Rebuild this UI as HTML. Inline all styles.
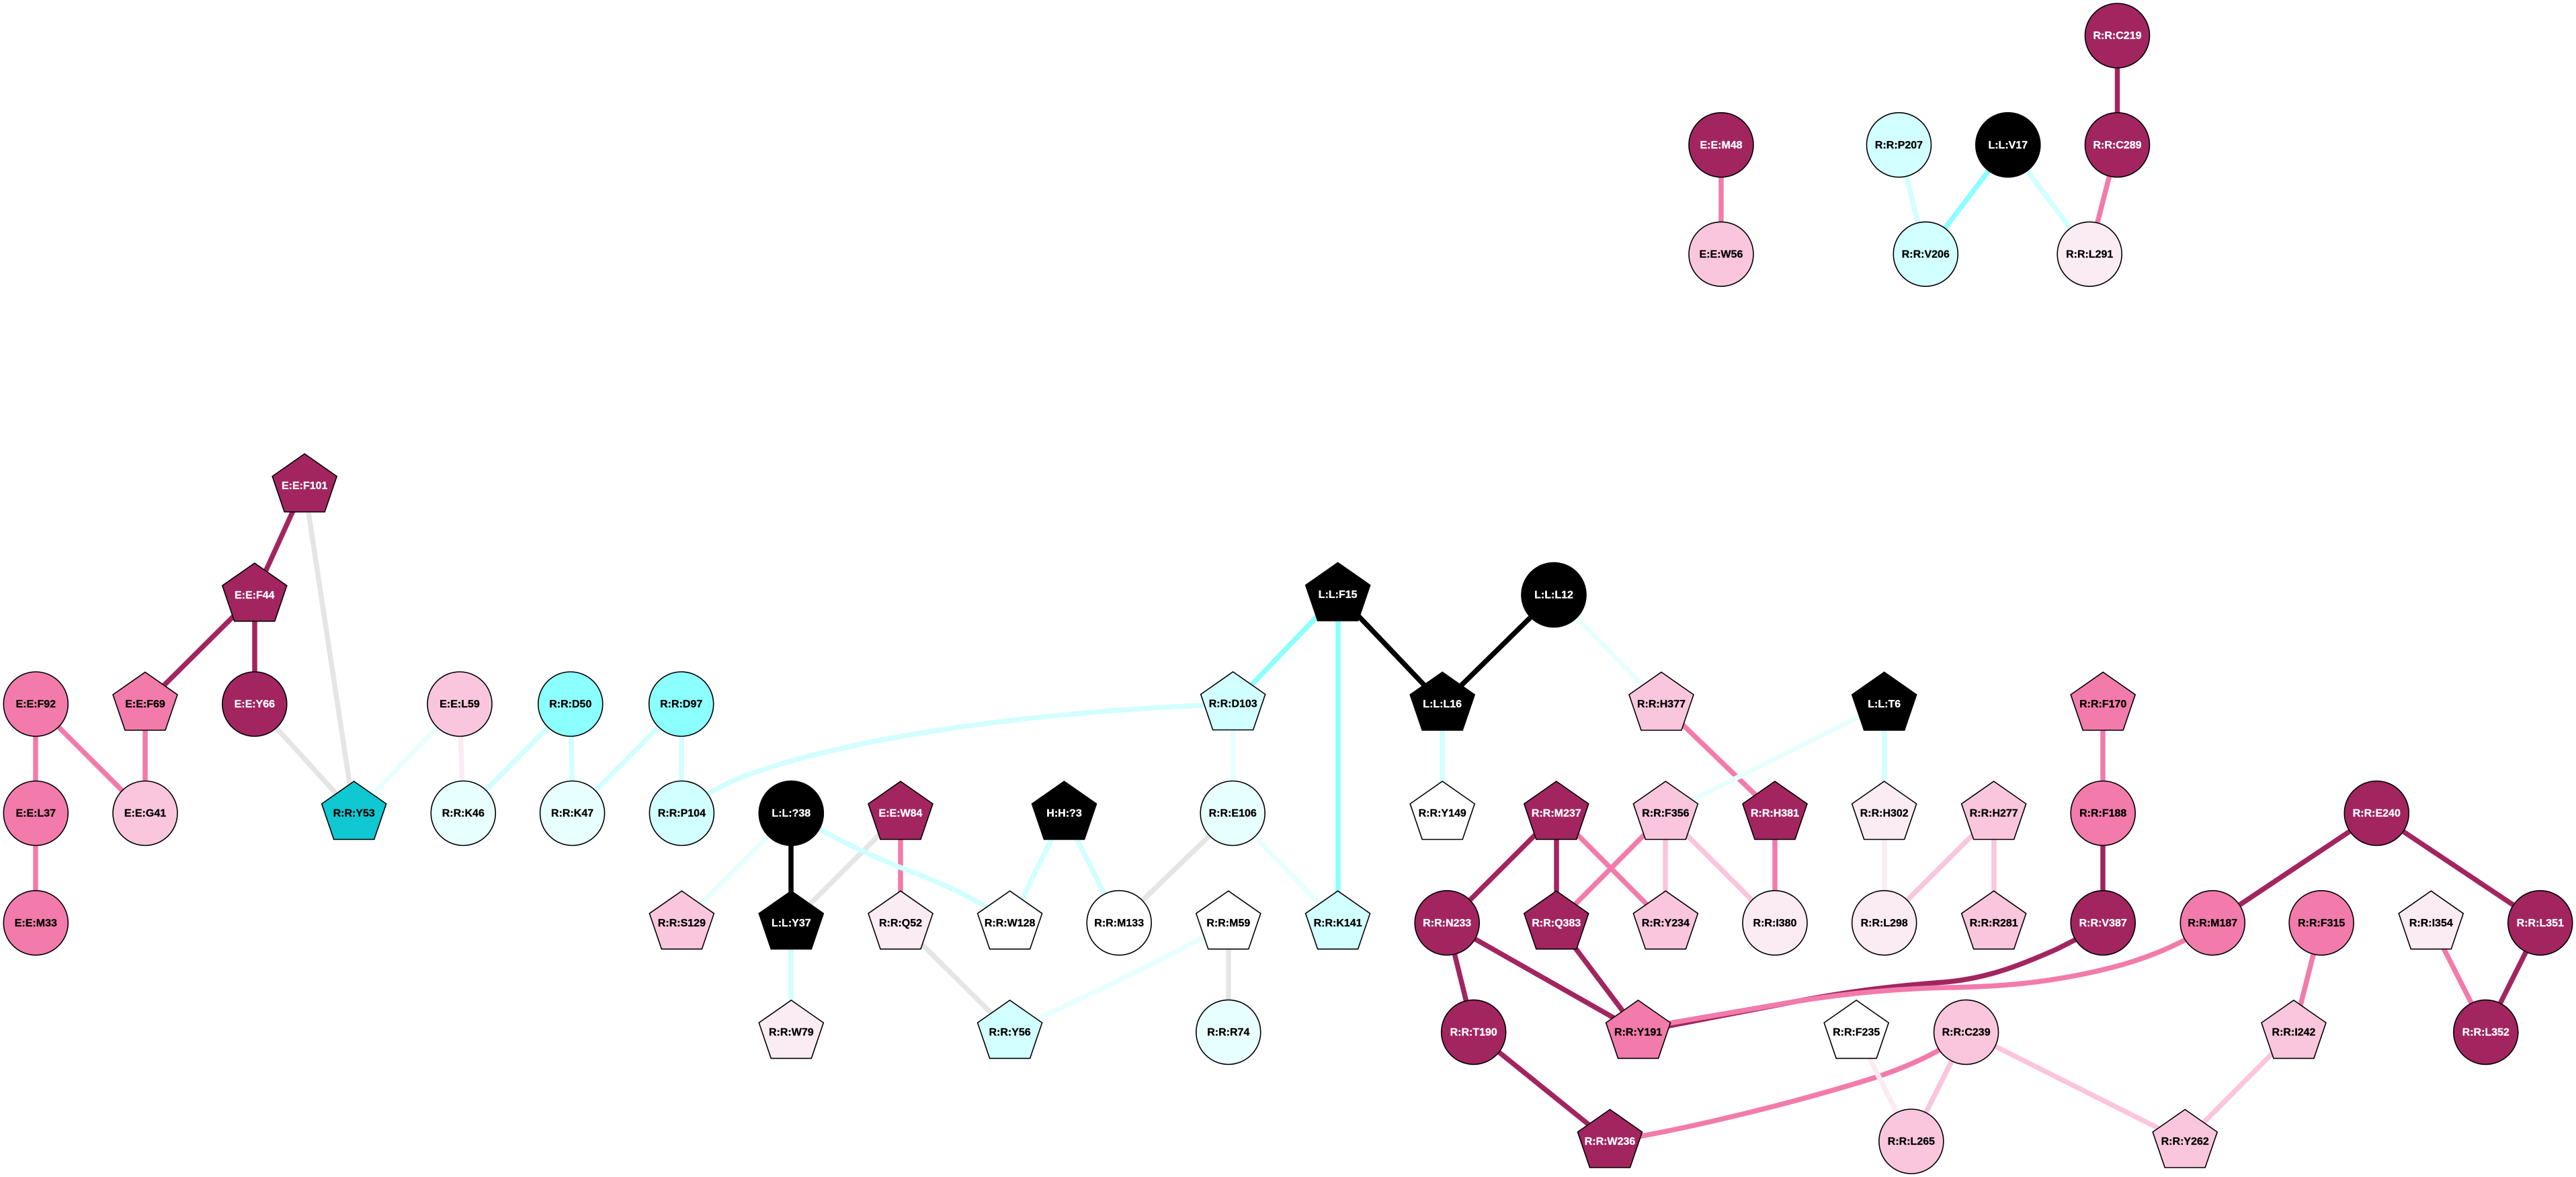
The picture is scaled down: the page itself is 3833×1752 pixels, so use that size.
<!DOCTYPE html>
<html><head><meta charset="utf-8"><title>Residue network</title>
<style>
html,body{margin:0;padding:0;background:#fff}
svg{display:block}
text{font-family:"Liberation Sans",Arial,sans-serif;font-weight:bold;font-size:16px;text-anchor:middle;fill:#000;stroke:#000;stroke-width:.3}
text.w{fill:#fff;stroke:#fff}
.n circle,.n polygon{stroke:#000;stroke-width:1.6}
.e line,.e path{fill:none;stroke-width:7.5}
.da{fill:#a22560}.pi{fill:#f27bab}.lp{fill:#f9c6dd}.pp{fill:#fbebf3}.wh{fill:#fff}.vc{fill:#e8ffff}.pc{fill:#d2ffff}.cy{fill:#8cffff}.te{fill:#0fc8d2}.bk{fill:#000}
</style></head><body>
<svg xmlns="http://www.w3.org/2000/svg" width="3833" height="1752" viewBox="0 0 3833 1752">
<rect width="3833" height="1752" fill="#fff"/>
<g class="e" stroke="#e5e5e5">
<line x1="453" y1="723" x2="527" y2="1211"/>
<line x1="379" y1="1048" x2="527" y2="1211"/>
<line x1="1340" y1="1211" x2="1177" y2="1374"/>
<line x1="1834" y1="1211" x2="1665" y2="1374"/>
<line x1="1340" y1="1374" x2="1503" y2="1536"/>
<line x1="1828" y1="1374" x2="1828" y2="1536"/>
</g>
<g class="e" stroke="#a22560">
<line x1="453" y1="723" x2="379" y2="886"/>
<line x1="379" y1="886" x2="216" y2="1048"/>
<line x1="379" y1="886" x2="379" y2="1048"/>
<line x1="3150.5" y1="53" x2="3150.5" y2="216"/>
<line x1="2316" y1="1211" x2="2153" y2="1374"/>
<line x1="2316" y1="1211" x2="2316" y2="1374"/>
<line x1="2153" y1="1374" x2="2193" y2="1536"/>
<line x1="2153" y1="1374" x2="2438" y2="1536"/>
<line x1="2316" y1="1374" x2="2438" y2="1536"/>
<line x1="2193" y1="1536" x2="2395" y2="1699"/>
<line x1="3129" y1="1211" x2="3129" y2="1374"/>
<line x1="3536" y1="1211" x2="3292" y2="1374"/>
<line x1="3536" y1="1211" x2="3780" y2="1374"/>
<line x1="3780" y1="1374" x2="3699" y2="1536"/>
<path d="M2438 1535.7 L2650 1495 C2740 1477 2810 1468 2896 1461.7 C2960 1456 3010 1435 3060 1413 C3090 1398 3110 1388 3129 1374"/>
</g>
<g class="e" stroke="#f27bab">
<line x1="53" y1="1048" x2="53" y2="1211"/>
<line x1="53" y1="1211" x2="53" y2="1374"/>
<line x1="53" y1="1048" x2="216" y2="1211"/>
<line x1="216" y1="1048" x2="216" y2="1211"/>
<line x1="2561" y1="216" x2="2561" y2="378"/>
<line x1="3150.5" y1="216" x2="3109" y2="378"/>
<line x1="1340" y1="1211" x2="1340" y2="1374"/>
<line x1="2472" y1="1048" x2="2641" y2="1211"/>
<line x1="2641" y1="1211" x2="2641" y2="1374"/>
<line x1="2316" y1="1211" x2="2478" y2="1374"/>
<line x1="2478" y1="1211" x2="2316" y2="1374"/>
<line x1="3129" y1="1048" x2="3129" y2="1211"/>
<line x1="3454" y1="1374" x2="3413" y2="1536"/>
<line x1="3617" y1="1374" x2="3699" y2="1536"/>
<path d="M2438 1531 L2650 1494.4 C2730 1480.5 2810 1472 2896 1470 C2970 1469 3050 1464 3143 1440 C3190 1428 3250 1405 3292 1374"/>
<path d="M2395 1699 C2490 1685 2660 1645 2793 1603 C2840 1587 2890 1565 2926 1536"/>
</g>
<g class="e" stroke="#f9c6dd">
<line x1="2478" y1="1211" x2="2478" y2="1374"/>
<line x1="2478" y1="1211" x2="2641" y2="1374"/>
<line x1="2967" y1="1211" x2="2804" y2="1374"/>
<line x1="2967" y1="1211" x2="2967" y2="1374"/>
<line x1="2926" y1="1536" x2="2844" y2="1699"/>
<line x1="2926" y1="1536" x2="3251" y2="1699"/>
<line x1="3413" y1="1536" x2="3251" y2="1699"/>
</g>
<g class="e" stroke="#fbebf3">
<line x1="684" y1="1048" x2="689" y2="1211"/>
<line x1="2804" y1="1211" x2="2804" y2="1374"/>
<line x1="2762" y1="1536" x2="2844" y2="1699"/>
</g>
<g class="e" stroke="#8cffff">
<line x1="1991" y1="885" x2="1835" y2="1048"/>
<line x1="1991" y1="885" x2="1991" y2="1374"/>
<line x1="2988" y1="216" x2="2865" y2="378"/>
</g>
<g class="e" stroke="#d2ffff">
<line x1="849" y1="1048" x2="689" y2="1211"/>
<line x1="849" y1="1048" x2="852" y2="1211"/>
<line x1="1014" y1="1048" x2="852" y2="1211"/>
<line x1="1014" y1="1048" x2="1014" y2="1211"/>
<line x1="2825.5" y1="216" x2="2865" y2="378"/>
<line x1="2988" y1="216" x2="3109" y2="378"/>
<line x1="2146" y1="1048" x2="2146" y2="1211"/>
<line x1="2804" y1="1048" x2="2804" y2="1211"/>
<line x1="1177" y1="1374" x2="1177" y2="1536"/>
<line x1="1583.5" y1="1211" x2="1503" y2="1374"/>
<line x1="1583.5" y1="1211" x2="1665" y2="1374"/>
<path d="M1014 1210 C1040 1192 1060 1175 1092 1161.7 C1230 1105 1500 1060 1835 1048"/>
<path d="M1177 1205 C1210 1232 1260 1258 1336.7 1290 C1400 1314 1450 1335 1503 1374"/>
</g>
<g class="e" stroke="#e8ffff">
<line x1="1177" y1="1211" x2="1014" y2="1374"/>
<line x1="684" y1="1048" x2="527" y2="1211"/>
<line x1="1835" y1="1048" x2="1834" y2="1211"/>
<line x1="1834" y1="1211" x2="1991" y2="1374"/>
<line x1="2312" y1="885" x2="2472" y2="1048"/>
<line x1="2804" y1="1048" x2="2478" y2="1211"/>
<path d="M1503 1536 C1600 1490 1720 1435 1828 1374"/>
</g>
<g class="e" stroke="#000">
<line x1="1177" y1="1211" x2="1177" y2="1374"/>
<line x1="1991" y1="885" x2="2146" y2="1048"/>
<line x1="2312" y1="885" x2="2146" y2="1048"/>
</g>
<g class="n">
<circle class="da" cx="3150.5" cy="53" r="48"/><text class="w" x="3150.5" y="58">R:R:C219</text>
<circle class="da" cx="3150.5" cy="215.7" r="48"/><text class="w" x="3150.5" y="221">R:R:C289</text>
<circle class="da" cx="2561" cy="215.7" r="48"/><text class="w" x="2561" y="221">E:E:M48</text>
<circle class="pc" cx="2825.5" cy="215.7" r="48"/><text x="2825.5" y="221">R:R:P207</text>
<circle class="bk" cx="2987.8" cy="215.7" r="48"/><text class="w" x="2987.8" y="221">L:L:V17</text>
<circle class="lp" cx="2561" cy="378.3" r="48"/><text x="2561" y="383.5">E:E:W56</text>
<circle class="pc" cx="2865.3" cy="378.3" r="48"/><text x="2865.3" y="383.5">R:R:V206</text>
<circle class="pp" cx="3109.2" cy="378.3" r="48"/><text x="3109.2" y="383.5">R:R:L291</text>

<polygon class="da" transform="translate(453.2,723)" points="0,-47.5 48,-14 30,39 -30,39 -48,-14"/><text class="w" x="453.2" y="728">E:E:F101</text>
<polygon class="da" transform="translate(378.8,885.7)" points="0,-47.5 48,-14 30,39 -30,39 -48,-14"/><text class="w" x="378.8" y="891">E:E:F44</text>
<polygon class="bk" transform="translate(1990.7,885)" points="0,-47.5 48,-14 30,39 -30,39 -48,-14"/><text class="w" x="1990.7" y="890">L:L:F15</text>
<circle class="bk" cx="2312" cy="885.5" r="48"/><text class="w" x="2312" y="890.5">L:L:L12</text>

<circle class="pi" cx="53.3" cy="1048" r="48"/><text x="53.3" y="1053">E:E:F92</text>
<polygon class="pi" transform="translate(216,1048)" points="0,-47.5 48,-14 30,39 -30,39 -48,-14"/><text x="216" y="1053">E:E:F69</text>
<circle class="da" cx="378.8" cy="1048" r="48"/><text class="w" x="378.8" y="1053">E:E:Y66</text>
<circle class="lp" cx="684" cy="1048" r="48"/><text x="684" y="1053">E:E:L59</text>
<circle class="cy" cx="848.8" cy="1048" r="48"/><text x="848.8" y="1053">R:R:D50</text>
<circle class="cy" cx="1013.7" cy="1048" r="48"/><text x="1013.7" y="1053">R:R:D97</text>
<polygon class="pc" transform="translate(1834.7,1047.5)" points="0,-47.5 48,-14 30,39 -30,39 -48,-14"/><text x="1834.7" y="1052.5">R:R:D103</text>
<polygon class="bk" transform="translate(2146.2,1048)" points="0,-47.5 48,-14 30,39 -30,39 -48,-14"/><text class="w" x="2146.2" y="1053">L:L:L16</text>
<polygon class="lp" transform="translate(2472,1048)" points="0,-47.5 48,-14 30,39 -30,39 -48,-14"/><text x="2472" y="1053">R:R:H377</text>
<polygon class="bk" transform="translate(2803.7,1048)" points="0,-47.5 48,-14 30,39 -30,39 -48,-14"/><text class="w" x="2803.7" y="1053">L:L:T6</text>
<polygon class="pi" transform="translate(3129.2,1048)" points="0,-47.5 48,-14 30,39 -30,39 -48,-14"/><text x="3129.2" y="1053">R:R:F170</text>

<circle class="pi" cx="53.3" cy="1210.5" r="48"/><text x="53.3" y="1215.5">E:E:L37</text>
<circle class="lp" cx="216" cy="1210.5" r="48"/><text x="216" y="1215.5">E:E:G41</text>
<polygon class="te" transform="translate(526.7,1210.5)" points="0,-47.5 48,-14 30,39 -30,39 -48,-14"/><text x="526.7" y="1215.5">R:R:Y53</text>
<circle class="vc" cx="689.3" cy="1210.5" r="48"/><text x="689.3" y="1215.5">R:R:K46</text>
<circle class="vc" cx="851.6" cy="1210.5" r="48"/><text x="851.6" y="1215.5">R:R:K47</text>
<circle class="pc" cx="1014.4" cy="1210.5" r="48"/><text x="1014.4" y="1215.5">R:R:P104</text>
<circle class="bk" cx="1177.3" cy="1210.5" r="48"/><text class="w" x="1177.3" y="1215.5">L:L:?38</text>
<polygon class="da" transform="translate(1340,1210.5)" points="0,-47.5 48,-14 30,39 -30,39 -48,-14"/><text class="w" x="1340" y="1215.5">E:E:W84</text>
<polygon class="bk" transform="translate(1583.5,1210.5)" points="0,-47.5 48,-14 30,39 -30,39 -48,-14"/><text class="w" x="1583.5" y="1215.5">H:H:?3</text>
<circle class="vc" cx="1834.2" cy="1210.5" r="48"/><text x="1834.2" y="1215.5">R:R:E106</text>
<polygon class="wh" transform="translate(2146.2,1210.5)" points="0,-47.5 48,-14 30,39 -30,39 -48,-14"/><text x="2146.2" y="1215.5">R:R:Y149</text>
<polygon class="da" transform="translate(2315.8,1210.5)" points="0,-47.5 48,-14 30,39 -30,39 -48,-14"/><text class="w" x="2315.8" y="1215.5">R:R:M237</text>
<polygon class="lp" transform="translate(2478.4,1210.5)" points="0,-47.5 48,-14 30,39 -30,39 -48,-14"/><text x="2478.4" y="1215.5">R:R:F356</text>
<polygon class="da" transform="translate(2641,1210.5)" points="0,-47.5 48,-14 30,39 -30,39 -48,-14"/><text class="w" x="2641" y="1215.5">R:R:H381</text>
<polygon class="pp" transform="translate(2803.7,1210.5)" points="0,-47.5 48,-14 30,39 -30,39 -48,-14"/><text x="2803.7" y="1215.5">R:R:H302</text>
<polygon class="lp" transform="translate(2966.7,1210.5)" points="0,-47.5 48,-14 30,39 -30,39 -48,-14"/><text x="2966.7" y="1215.5">R:R:H277</text>
<circle class="pi" cx="3129.2" cy="1210.5" r="48"/><text x="3129.2" y="1215.5">R:R:F188</text>
<circle class="da" cx="3536.3" cy="1210.5" r="48"/><text class="w" x="3536.3" y="1215.5">R:R:E240</text>

<circle class="pi" cx="53.3" cy="1373.7" r="48"/><text x="53.3" y="1379">E:E:M33</text>
<polygon class="lp" transform="translate(1014.4,1373.7)" points="0,-47.5 48,-14 30,39 -30,39 -48,-14"/><text x="1014.4" y="1379">R:R:S129</text>
<polygon class="bk" transform="translate(1177.3,1373.7)" points="0,-47.5 48,-14 30,39 -30,39 -48,-14"/><text class="w" x="1177.3" y="1379">L:L:Y37</text>
<polygon class="pp" transform="translate(1340,1373.7)" points="0,-47.5 48,-14 30,39 -30,39 -48,-14"/><text x="1340" y="1379">R:R:Q52</text>
<polygon class="wh" transform="translate(1502.6,1373.7)" points="0,-47.5 48,-14 30,39 -30,39 -48,-14"/><text x="1502.6" y="1379">R:R:W128</text>
<circle class="wh" cx="1665.2" cy="1373.7" r="48"/><text x="1665.2" y="1379">R:R:M133</text>
<polygon class="wh" transform="translate(1827.8,1373.7)" points="0,-47.5 48,-14 30,39 -30,39 -48,-14"/><text x="1827.8" y="1379">R:R:M59</text>
<polygon class="pc" transform="translate(1990.6,1373.7)" points="0,-47.5 48,-14 30,39 -30,39 -48,-14"/><text x="1990.6" y="1379">R:R:K141</text>
<circle class="da" cx="2153.2" cy="1373.7" r="48"/><text class="w" x="2153.2" y="1379">R:R:N233</text>
<polygon class="da" transform="translate(2315.8,1373.7)" points="0,-47.5 48,-14 30,39 -30,39 -48,-14"/><text class="w" x="2315.8" y="1379">R:R:Q383</text>
<polygon class="lp" transform="translate(2478.4,1373.7)" points="0,-47.5 48,-14 30,39 -30,39 -48,-14"/><text x="2478.4" y="1379">R:R:Y234</text>
<circle class="pp" cx="2641" cy="1373.7" r="48"/><text x="2641" y="1379">R:R:I380</text>
<circle class="pp" cx="2803.7" cy="1373.7" r="48"/><text x="2803.7" y="1379">R:R:L298</text>
<polygon class="lp" transform="translate(2966.7,1373.7)" points="0,-47.5 48,-14 30,39 -30,39 -48,-14"/><text x="2966.7" y="1379">R:R:R281</text>
<circle class="da" cx="3129.2" cy="1373.7" r="48"/><text class="w" x="3129.2" y="1379">R:R:V387</text>
<circle class="pi" cx="3292.3" cy="1373.7" r="48"/><text x="3292.3" y="1379">R:R:M187</text>
<circle class="pi" cx="3454.2" cy="1373.7" r="48"/><text x="3454.2" y="1379">R:R:F315</text>
<polygon class="pp" transform="translate(3617.3,1373.7)" points="0,-47.5 48,-14 30,39 -30,39 -48,-14"/><text x="3617.3" y="1379">R:R:I354</text>
<circle class="da" cx="3779.8" cy="1373.7" r="48"/><text class="w" x="3779.8" y="1379">R:R:L351</text>

<polygon class="pp" transform="translate(1177.3,1536.4)" points="0,-47.5 48,-14 30,39 -30,39 -48,-14"/><text x="1177.3" y="1541.5">R:R:W79</text>
<polygon class="pc" transform="translate(1502.6,1536.4)" points="0,-47.5 48,-14 30,39 -30,39 -48,-14"/><text x="1502.6" y="1541.5">R:R:Y56</text>
<circle class="vc" cx="1827.8" cy="1536.4" r="48"/><text x="1827.8" y="1541.5">R:R:R74</text>
<circle class="da" cx="2192.7" cy="1536.4" r="48"/><text class="w" x="2192.7" y="1541.5">R:R:T190</text>
<polygon class="pi" transform="translate(2437.6,1536.4)" points="0,-47.5 48,-14 30,39 -30,39 -48,-14"/><text x="2437.6" y="1541.5">R:R:Y191</text>
<polygon class="wh" transform="translate(2762.2,1536.4)" points="0,-47.5 48,-14 30,39 -30,39 -48,-14"/><text x="2762.2" y="1541.5">R:R:F235</text>
<circle class="lp" cx="2925.6" cy="1536.4" r="48"/><text x="2925.6" y="1541.5">R:R:C239</text>
<polygon class="lp" transform="translate(3413,1536.4)" points="0,-47.5 48,-14 30,39 -30,39 -48,-14"/><text x="3413" y="1541.5">R:R:I242</text>
<circle class="da" cx="3698.8" cy="1536.4" r="48"/><text class="w" x="3698.8" y="1541.5">R:R:L352</text>

<polygon class="da" transform="translate(2395.5,1699)" points="0,-47.5 48,-14 30,39 -30,39 -48,-14"/><text class="w" x="2395.5" y="1704">R:R:W236</text>
<circle class="lp" cx="2843.9" cy="1699" r="48"/><text x="2843.9" y="1704">R:R:L265</text>
<polygon class="lp" transform="translate(3251.2,1699)" points="0,-47.5 48,-14 30,39 -30,39 -48,-14"/><text x="3251.2" y="1704">R:R:Y262</text>
</g>
</svg>
</body></html>
